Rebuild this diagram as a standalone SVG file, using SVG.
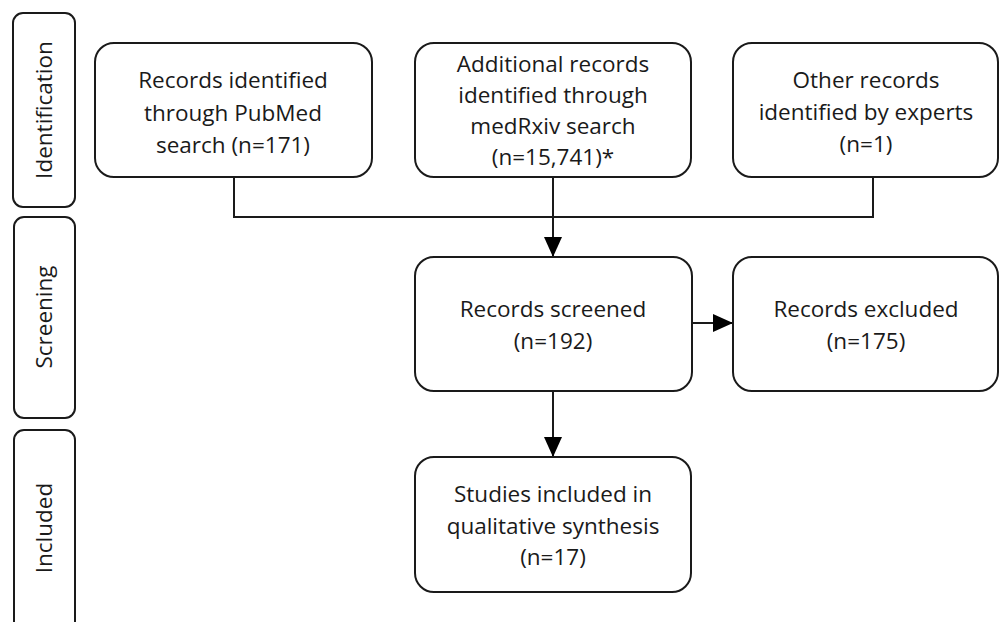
<svg xmlns="http://www.w3.org/2000/svg" width="1000" height="622" viewBox="0 0 1000 622">
<style>
.box{fill:#fff;stroke:#1a1a1a;stroke-width:2}
.t{font-family:"Open Sans","Liberation Sans",sans-serif;font-size:22.5px;fill:#1a1a1a;text-anchor:middle}
.stage{font-family:"Open Sans","Liberation Sans",sans-serif;font-size:22.5px;fill:#1a1a1a;text-anchor:middle;dominant-baseline:central}
.ln{fill:none;stroke:#1a1a1a;stroke-width:2}
</style>
<defs>
<marker id="arr" viewBox="0 0 20 20" refX="20" refY="10" markerWidth="20" markerHeight="20" markerUnits="userSpaceOnUse" orient="auto">
<path d="M0,1 L20,10 L0,19 z" fill="#000"/>
</marker>
</defs>
<rect width="1000" height="622" fill="#fff"/>
<g id="stage-identification">
<rect class="box" x="13" y="13" width="62" height="194" rx="10"/>
<text class="stage" transform="translate(43,110) rotate(-90)">Identification</text>
</g>
<g id="stage-screening">
<rect class="box" x="14" y="217" width="61" height="201" rx="10"/>
<text class="stage" transform="translate(43,317) rotate(-90)">Screening</text>
</g>
<g id="stage-included">
<rect class="box" x="14" y="430" width="61" height="210" rx="10"/>
<text class="stage" transform="translate(43,528) rotate(-90)">Included</text>
</g>
<g id="connectors">
<polyline class="ln" points="234,177 234,217 873,217 873,177"/>
<line class="ln" x1="553" y1="177" x2="553" y2="257" marker-end="url(#arr)"/>
<line class="ln" x1="692" y1="323" x2="733" y2="323" marker-end="url(#arr)"/>
<line class="ln" x1="553" y1="391" x2="553" y2="457" marker-end="url(#arr)"/>
</g>
<g id="pubmed">
<rect class="box" x="95" y="43" width="277" height="134" rx="19"/>
<text class="t" x="233" y="88">Records identified</text>
<text class="t" x="233" y="121">through PubMed</text>
<text class="t" x="233" y="153">search (n=171)</text>
</g>
<g id="medrxiv">
<rect class="box" x="415" y="43" width="276" height="134" rx="19"/>
<text class="t" x="553" y="72">Additional records</text>
<text class="t" x="553" y="103">identified through</text>
<text class="t" x="553" y="134">medRxiv search</text>
<text class="t" x="553" y="165">(n=15,741)*</text>
</g>
<g id="experts">
<rect class="box" x="733" y="43" width="265" height="134" rx="19"/>
<text class="t" x="866" y="88">Other records</text>
<text class="t" x="866" y="120">identified by experts</text>
<text class="t" x="866" y="152">(n=1)</text>
</g>
<g id="screened">
<rect class="box" x="415" y="257" width="277" height="134" rx="19"/>
<text class="t" x="553" y="317">Records screened</text>
<text class="t" x="553" y="349">(n=192)</text>
</g>
<g id="excluded">
<rect class="box" x="733" y="257" width="265" height="134" rx="19"/>
<text class="t" x="866" y="317">Records excluded</text>
<text class="t" x="866" y="349">(n=175)</text>
</g>
<g id="included">
<rect class="box" x="415" y="457" width="276" height="135" rx="19"/>
<text class="t" x="553" y="502">Studies included in</text>
<text class="t" x="553" y="534">qualitative synthesis</text>
<text class="t" x="553" y="565">(n=17)</text>
</g>
</svg>
